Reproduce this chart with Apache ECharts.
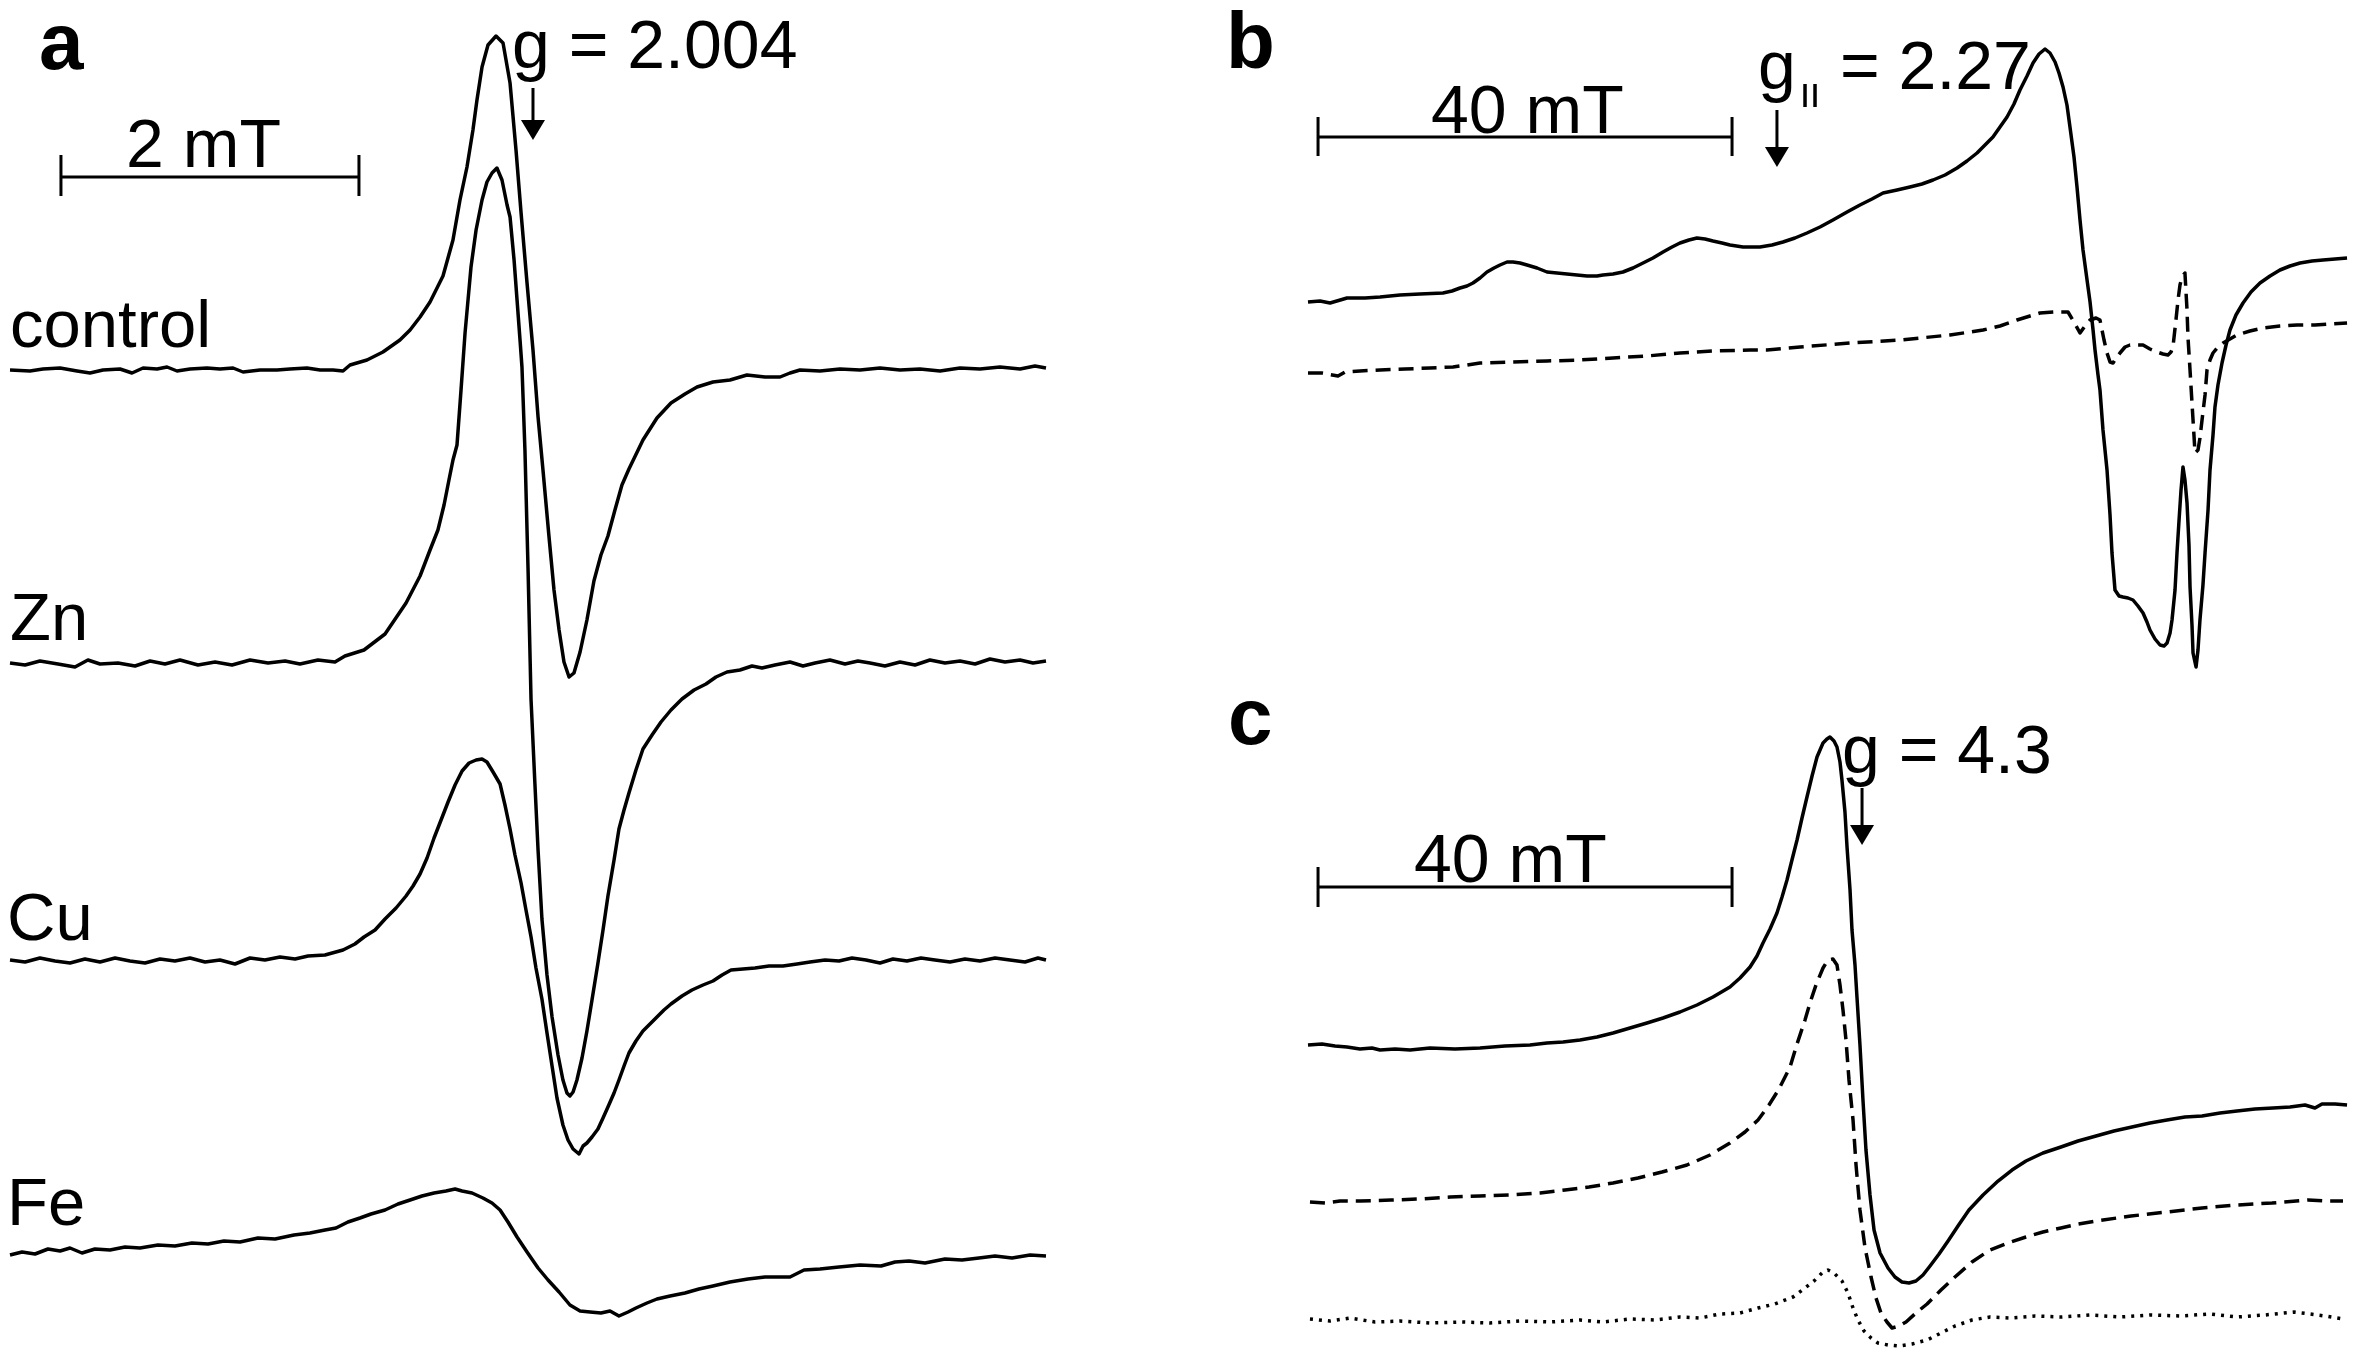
<!DOCTYPE html>
<html><head><meta charset="utf-8">
<script src="https://cdn.jsdelivr.net/npm/echarts@6/dist/echarts.min.js"></script>
<style>html,body{margin:0;padding:0;background:#fff}#c{width:2359px;height:1352px}</style>
</head><body><div id="c"></div>
<script>
// ---------- Panel a : field offset (mT) , intensity (a.u., traces stacked) ----------
const controlTrace = [[0.000,98.2],[0.134,98.1],[0.221,98.3],[0.336,98.4],[0.450,98.1],[0.537,97.9],[0.624,98.2],[0.738,98.3],[0.819,97.9],[0.893,98.4],[0.987,98.3],[1.054,98.5],[1.121,98.1],[1.208,98.3],[1.322,98.4],[1.409,98.3],[1.497,98.4],[1.564,98.0],[1.678,98.2],[1.792,98.2],[1.879,98.3],[1.993,98.4],[2.081,98.2],[2.168,98.2],[2.235,98.1],[2.282,98.7],[2.396,99.2],[2.503,100.0],[2.617,101.2],[2.685,102.2],[2.752,103.5],[2.819,105.0],[2.906,107.6],[2.973,111.2],[3.020,115.2],[3.067,118.5],[3.107,122.2],[3.134,125.2],[3.168,128.5],[3.208,130.7],[3.262,131.6],[3.309,130.9],[3.356,126.9],[3.396,120.2],[3.430,113.9],[3.470,106.9],[3.510,100.2],[3.544,93.5],[3.577,88.2],[3.617,81.6],[3.651,76.2],[3.685,72.2],[3.718,69.0],[3.752,67.5],[3.785,67.9],[3.826,70.0],[3.872,73.2],[3.919,77.1],[3.966,79.7],[4.013,81.6],[4.060,84.2],[4.107,86.7],[4.154,88.3],[4.248,91.2],[4.342,93.4],[4.436,94.9],[4.530,95.8],[4.611,96.5],[4.718,97.0],[4.832,97.2],[4.946,97.7],[5.067,97.5],[5.168,97.5],[5.235,97.9],[5.302,98.2],[5.436,98.1],[5.570,98.3],[5.705,98.2],[5.839,98.4],[5.973,98.2],[6.107,98.3],[6.242,98.1],[6.376,98.4],[6.510,98.3],[6.644,98.5],[6.779,98.3],[6.879,98.6],[6.953,98.4]];
const znTrace = [[0.000,68.9],[0.101,68.7],[0.201,69.1],[0.322,68.8],[0.436,68.5],[0.523,69.2],[0.604,68.8],[0.725,68.9],[0.839,68.6],[0.940,69.1],[1.040,68.8],[1.141,69.2],[1.262,68.7],[1.376,69.0],[1.490,68.7],[1.611,69.2],[1.732,68.9],[1.846,69.1],[1.946,68.8],[2.067,69.2],[2.181,69.0],[2.248,69.6],[2.376,70.2],[2.517,71.8],[2.658,74.9],[2.752,77.6],[2.819,80.2],[2.872,82.2],[2.913,84.7],[2.946,87.2],[2.973,89.2],[3.000,90.7],[3.027,96.2],[3.054,101.9],[3.094,108.5],[3.128,112.2],[3.168,115.2],[3.201,117.0],[3.235,117.9],[3.268,118.4],[3.302,117.2],[3.336,114.7],[3.356,113.5],[3.383,109.2],[3.403,105.2],[3.423,101.2],[3.436,98.5],[3.456,90.2],[3.477,78.2],[3.497,65.2],[3.523,56.8],[3.544,50.2],[3.570,43.3],[3.604,37.7],[3.638,33.5],[3.678,29.7],[3.711,27.2],[3.738,25.9],[3.758,25.6],[3.779,26.0],[3.805,27.2],[3.839,29.4],[3.872,32.1],[3.906,35.2],[3.946,38.9],[3.980,42.2],[4.013,45.6],[4.054,49.2],[4.087,52.3],[4.121,54.2],[4.154,55.9],[4.201,58.2],[4.248,60.3],[4.309,61.7],[4.369,63.0],[4.436,64.2],[4.510,65.3],[4.591,66.2],[4.671,66.8],[4.738,67.5],[4.812,68.0],[4.899,68.2],[4.980,68.6],[5.047,68.4],[5.134,68.7],[5.235,69.0],[5.322,68.6],[5.403,68.9],[5.503,69.2],[5.604,68.8],[5.691,69.1],[5.772,68.9],[5.872,68.6],[5.973,69.0],[6.074,68.7],[6.174,69.2],[6.275,68.9],[6.376,69.1],[6.477,68.8],[6.577,69.3],[6.678,69.0],[6.779,69.2],[6.866,68.9],[6.953,69.1]];
const cuTrace = [[0.000,39.2],[0.101,39.0],[0.201,39.4],[0.302,39.1],[0.403,38.9],[0.503,39.3],[0.604,39.0],[0.705,39.4],[0.805,39.1],[0.906,38.9],[1.007,39.3],[1.107,39.1],[1.208,39.4],[1.309,39.0],[1.409,39.2],[1.510,38.8],[1.611,39.4],[1.711,39.2],[1.812,39.5],[1.913,39.3],[2.000,39.6],[2.114,39.7],[2.235,40.2],[2.315,40.8],[2.376,41.5],[2.450,42.2],[2.517,43.3],[2.591,44.4],[2.658,45.6],[2.705,46.6],[2.752,47.8],[2.799,49.4],[2.846,51.4],[2.893,53.2],[2.940,55.0],[2.987,56.7],[3.034,58.1],[3.081,58.9],[3.128,59.2],[3.168,59.3],[3.201,59.0],[3.242,58.0],[3.289,56.8],[3.322,54.7],[3.356,52.3],[3.389,49.7],[3.430,46.9],[3.463,44.2],[3.497,41.5],[3.530,38.4],[3.570,35.3],[3.604,31.9],[3.638,28.6],[3.671,25.4],[3.711,22.7],[3.745,21.2],[3.779,20.3],[3.819,19.8],[3.846,20.6],[3.872,20.9],[3.906,21.5],[3.946,22.3],[3.980,23.4],[4.013,24.5],[4.054,25.9],[4.087,27.2],[4.121,28.6],[4.154,29.9],[4.201,31.1],[4.248,32.1],[4.295,32.8],[4.342,33.5],[4.389,34.2],[4.436,34.8],[4.510,35.6],[4.577,36.2],[4.651,36.7],[4.718,37.1],[4.779,37.7],[4.839,38.2],[4.919,38.3],[5.000,38.4],[5.094,38.6],[5.188,38.6],[5.282,38.8],[5.369,39.0],[5.470,39.2],[5.564,39.1],[5.651,39.4],[5.745,39.2],[5.839,38.9],[5.926,39.3],[6.020,39.1],[6.114,39.4],[6.208,39.2],[6.309,39.0],[6.409,39.3],[6.510,39.1],[6.611,39.4],[6.711,39.2],[6.812,39.0],[6.899,39.4],[6.953,39.2]];
const feTrace = [[0.000,9.7],[0.081,10.0],[0.168,9.8],[0.255,10.3],[0.336,10.1],[0.403,10.4],[0.483,9.9],[0.570,10.3],[0.671,10.2],[0.772,10.5],[0.872,10.4],[0.993,10.7],[1.107,10.6],[1.221,10.9],[1.329,10.8],[1.436,11.1],[1.544,11.0],[1.664,11.4],[1.779,11.3],[1.906,11.7],[2.013,11.9],[2.114,12.2],[2.188,12.4],[2.268,13.0],[2.349,13.4],[2.423,13.8],[2.517,14.2],[2.604,14.8],[2.685,15.2],[2.765,15.6],[2.846,15.9],[2.926,16.1],[2.987,16.3],[3.034,16.1],[3.101,15.9],[3.174,15.4],[3.235,14.9],[3.289,14.2],[3.342,13.0],[3.403,11.5],[3.470,10.0],[3.544,8.4],[3.611,7.2],[3.685,6.0],[3.758,4.7],[3.826,4.1],[3.893,4.0],[3.966,3.9],[4.027,4.1],[4.087,3.6],[4.148,4.0],[4.201,4.4],[4.275,4.9],[4.342,5.3],[4.430,5.6],[4.530,5.9],[4.624,6.3],[4.718,6.6],[4.832,7.0],[4.953,7.3],[5.067,7.5],[5.235,7.5],[5.329,8.2],[5.436,8.3],[5.564,8.5],[5.705,8.7],[5.846,8.6],[5.940,9.0],[6.034,9.1],[6.141,8.9],[6.275,9.3],[6.389,9.2],[6.503,9.4],[6.611,9.6],[6.725,9.4],[6.846,9.7],[6.953,9.6]];
const traceNames = ['control', 'Zn', 'Cu', 'Fe'];

// ---------- Panel b : field (mT) , intensity ----------
const bSolid = [[250.00,105.0],[251.16,105.1],[252.13,104.9],[253.77,105.4],[255.51,105.4],[256.96,105.5],[258.89,105.7],[260.82,105.8],[263.04,105.9],[263.91,106.1],[264.69,106.4],[265.36,106.6],[265.94,106.9],[266.62,107.4],[267.29,108.0],[267.97,108.4],[268.55,108.7],[269.23,109.0],[269.81,109.0],[270.48,108.9],[271.16,108.7],[272.13,108.4],[273.09,108.0],[274.06,107.9],[275.02,107.8],[275.99,107.7],[276.96,107.6],[277.92,107.6],[278.50,107.7],[279.47,107.8],[280.43,108.0],[281.40,108.4],[282.37,108.9],[283.33,109.4],[284.30,110.0],[285.17,110.5],[285.94,110.9],[286.81,111.2],[287.58,111.4],[288.36,111.3],[289.13,111.1],[290.00,110.9],[290.77,110.7],[292.03,110.5],[293.67,110.5],[294.83,110.7],[295.89,111.0],[297.05,111.4],[298.21,111.9],[299.47,112.5],[300.72,113.2],[302.08,114.0],[303.33,114.7],[304.49,115.3],[305.56,115.9],[306.91,116.2],[308.16,116.5],[309.32,116.8],[310.39,117.2],[311.55,117.7],[312.71,118.4],[313.67,119.1],[314.64,119.9],[315.41,120.7],[316.18,121.5],[316.86,122.5],[317.54,123.5],[318.21,124.8],[318.79,126.2],[319.47,127.6],[320.05,128.9],[320.63,129.8],[321.21,130.3],[321.69,129.9],[322.18,129.0],[322.56,127.9],[322.95,126.5],[323.33,124.7],[323.62,122.5],[324.01,119.5],[324.30,116.5],[324.59,113.2],[324.88,110.2],[325.27,107.2],[325.56,105.0],[325.85,102.2],[326.04,100.2],[326.33,97.7],[326.52,96.2],[326.81,92.2],[327.20,88.2],[327.49,83.7],[327.68,79.9],[327.97,76.2],[328.36,75.6],[328.74,75.5],[329.23,75.4],[329.71,75.2],[330.19,74.6],[330.68,73.9],[331.06,73.0],[331.35,72.2],[331.84,71.3],[332.32,70.7],[332.71,70.6],[333.00,70.9],[333.29,71.9],[333.48,73.2],[333.77,76.2],[333.96,79.9],[334.16,83.2],[334.35,86.2],[334.54,88.5],[334.73,87.2],[334.93,84.9],[335.12,80.7],[335.22,76.5],[335.41,72.7],[335.51,69.9],[335.80,68.5],[335.99,70.2],[336.18,73.2],[336.47,76.7],[336.67,79.9],[336.96,84.2],[337.15,88.2],[337.44,91.7],[337.63,94.5],[337.92,96.7],[338.31,98.9],[338.70,100.7],[339.08,102.2],[339.66,103.7],[340.34,104.9],[341.11,106.0],[341.98,106.9],[342.95,107.6],[343.91,108.2],[344.88,108.6],[345.85,108.9],[347.01,109.1],[348.07,109.2],[349.23,109.3],[350.39,109.4]];
const bDashed = [[250.00,97.9],[251.35,97.9],[252.90,97.6],[253.57,98.0],[255.02,98.1],[256.96,98.2],[259.37,98.3],[261.79,98.4],[264.01,98.5],[265.36,98.7],[266.62,98.9],[269.81,99.0],[273.09,99.1],[276.28,99.2],[279.47,99.4],[282.75,99.6],[285.94,99.9],[289.13,100.1],[292.71,100.2],[294.35,100.2],[297.54,100.5],[302.37,100.9],[307.20,101.2],[312.03,101.7],[315.22,102.2],[316.86,102.6],[318.50,103.2],[319.76,103.6],[320.72,103.9],[322.18,104.0],[323.43,104.0],[324.01,103.0],[324.59,101.9],[325.07,102.6],[325.56,103.2],[326.14,103.4],[326.52,103.2],[326.91,101.2],[327.20,99.9],[327.49,99.0],[327.78,98.9],[328.16,99.5],[328.45,99.9],[328.94,100.5],[329.42,100.7],[330.10,100.7],[330.68,100.7],[331.35,100.3],[332.03,100.0],[332.61,99.8],[333.09,99.7],[333.38,100.0],[333.57,100.5],[333.86,103.2],[334.06,105.2],[334.25,106.7],[334.44,107.5],[334.73,107.9],[334.93,104.2],[335.02,101.5],[335.22,98.2],[335.41,94.9],[335.60,91.7],[335.70,89.9],[335.99,90.2],[336.18,91.4],[336.38,93.2],[336.67,95.7],[336.86,98.2],[337.15,99.2],[337.44,99.9],[337.92,100.5],[338.41,100.9],[339.08,101.3],[339.76,101.7],[341.01,102.1],[342.27,102.4],[343.91,102.6],[345.56,102.7],[347.29,102.7],[348.74,102.8],[350.39,102.9]];

// ---------- Panel c : field (mT) , intensity ----------
const cSolid = [[100.00,30.7],[101.35,30.8],[102.61,30.6],[103.77,30.5],[105.02,30.3],[106.18,30.4],[106.96,30.2],[108.41,30.3],[109.86,30.2],[111.79,30.4],[114.20,30.3],[116.62,30.4],[119.03,30.6],[121.45,30.7],[123.09,30.9],[124.64,31.0],[126.28,31.2],[127.92,31.5],[129.47,31.9],[131.11,32.4],[132.75,32.9],[134.30,33.4],[135.94,34.0],[137.58,34.7],[139.13,35.5],[140.77,36.5],[141.74,37.4],[142.71,38.5],[143.38,39.6],[143.96,40.9],[144.64,42.3],[145.31,43.9],[145.80,45.5],[146.28,47.2],[146.76,49.2],[147.25,51.2],[147.73,53.4],[148.21,55.5],[148.70,57.6],[149.18,59.5],[149.76,60.9],[150.14,61.3],[150.43,61.5],[150.82,61.1],[151.11,60.5],[151.40,59.0],[151.59,57.2],[151.88,54.0],[152.08,50.5],[152.37,46.2],[152.56,42.2],[152.85,38.7],[153.04,35.5],[153.33,30.7],[153.62,25.2],[153.91,20.2],[154.30,15.7],[154.69,12.2],[155.27,9.9],[156.04,8.4],[156.71,7.5],[157.39,7.0],[158.07,6.9],[158.74,7.1],[159.42,7.7],[160.10,8.6],[160.97,9.8],[161.84,11.1],[162.80,12.6],[163.86,14.2],[165.22,15.7],[166.67,17.1],[168.02,18.2],[169.37,19.1],[171.01,19.9],[172.75,20.5],[174.40,21.1],[176.14,21.6],[177.87,22.1],[179.61,22.5],[181.35,22.9],[182.99,23.2],[184.73,23.5],[186.38,23.6],[188.12,23.9],[189.76,24.1],[191.50,24.3],[193.24,24.4],[194.88,24.5],[196.33,24.7],[197.29,24.4],[197.97,24.8],[199.23,24.8],[200.39,24.7]];
const cDashed = [[100.19,15.0],[101.64,14.9],[103.09,15.1],[105.02,15.1],[108.02,15.2],[110.82,15.3],[113.72,15.5],[116.62,15.6],[119.52,15.7],[122.42,15.9],[124.83,16.2],[127.15,16.5],[129.47,16.9],[131.88,17.4],[134.20,18.0],[136.62,18.7],[138.84,19.7],[140.77,20.9],[142.22,22.0],[143.48,23.2],[144.54,24.7],[145.51,26.3],[146.57,28.5],[147.25,30.8],[148.02,33.2],[148.50,34.9],[149.08,36.7],[149.76,38.4],[150.24,39.2],[150.72,39.3],[151.11,38.7],[151.40,36.7],[151.69,34.2],[151.98,31.2],[152.27,27.2],[152.66,23.2],[152.95,18.7],[153.33,14.2],[153.82,10.4],[154.40,7.5],[154.88,5.4],[155.36,3.9],[155.94,3.0],[156.43,2.4],[157.10,2.6],[157.78,3.0],[158.74,3.9],[159.81,4.8],[161.16,6.2],[162.51,7.5],[164.15,9.0],[165.89,10.2],[167.63,10.9],[169.37,11.5],[171.01,12.0],[172.75,12.4],[174.40,12.8],[176.14,13.1],[179.52,13.6],[182.99,14.0],[186.38,14.4],[189.76,14.7],[193.14,14.9],[196.62,15.2],[198.26,15.1],[200.00,15.1]];
const cDotted = [[100.19,3.3],[102.13,3.1],[104.06,3.4],[106.47,3.0],[108.89,3.1],[111.79,2.9],[114.88,3.0],[117.58,2.9],[120.48,3.1],[123.38,3.0],[126.28,3.2],[128.50,3.0],[131.11,3.3],[133.53,3.2],[135.94,3.5],[137.87,3.4],[139.81,3.8],[141.74,3.9],[143.48,4.4],[145.12,4.8],[146.86,5.5],[148.02,6.4],[148.89,7.1],[149.66,7.9],[150.24,8.2],[150.82,7.9],[151.59,7.1],[152.17,5.9],[152.66,4.4],[153.14,3.2],[153.72,2.1],[154.40,1.4],[155.07,0.9],[156.04,0.7],[157.10,0.6],[158.36,0.8],[159.81,1.2],[161.16,1.9],[162.51,2.6],[164.15,3.2],[165.89,3.5],[167.83,3.4],[170.24,3.6],[172.75,3.5],[175.56,3.7],[178.45,3.5],[181.35,3.7],[184.25,3.6],[187.15,3.8],[189.76,3.5],[192.46,3.7],[195.27,4.0],[196.81,3.8],[198.26,3.6],[200.00,3.3]];

// scale bars (field span) and g-value markers
const scaleBarLengths = [2, 40, 40];          // mT
const scaleBarLabels = ['2 mT', '40 mT', '40 mT'];
const gMarkerField = [3.510, 295.31, 153.53]; // mT, arrow positions
const gLabels = ['g = 2.004', 'g', 'g = 4.3'];

// ---------- layout / styling ----------
const FONT = '"Liberation Sans", Arial, Helvetica, sans-serif';
const BLACK = '#000';
const LW = 3.5;
const chart = echarts.init(document.getElementById('c'), null, {renderer: 'canvas'});

function lineSeries(panel, data, type) {
  return {type: 'line', xAxisIndex: panel, yAxisIndex: panel, data: data, symbol: 'none',
    silent: true, animation: false, clip: false,
    lineStyle: {color: BLACK, width: LW, type: type, join: 'round', cap: 'butt'}};
}
// scale-bar geometry per panel (start field, bar level, tick top, tick bottom)
const barGeom = [
  {start: 0.342, y: 117.5, up: 119.7, down: 115.6},
  {start: 250.97, y: 121.5, up: 123.5, down: 119.6},
  {start: 100.97, y: 46.5, up: 48.5, down: 44.5}
];
function barSeries(panel) {
  const g = barGeom[panel], x0 = g.start, x1 = g.start + scaleBarLengths[panel];
  const s = lineSeries(panel, [[x0, g.up], [x0, g.down], [x0, g.y], [x1, g.y], [x1, g.up], [x1, g.down]], 'solid');
  s.lineStyle.width = 3; s.lineStyle.join = 'miter';
  return s;
}

const option = {
  backgroundColor: '#fff',
  animation: false,
  grid: [
    {left: 10, top: 0, width: 1043, height: 1352},
    {left: 1308, top: 0, width: 1045.35, height: 1352},
    {left: 1308, top: 0, width: 1045.35, height: 1352}
  ],
  xAxis: [
    {gridIndex: 0, type: 'value', min: 0, max: 7, show: false},
    {gridIndex: 1, type: 'value', min: 250, max: 351, show: false},
    {gridIndex: 2, type: 'value', min: 100, max: 201, show: false}
  ],
  yAxis: [0, 1, 2].map(i => ({gridIndex: i, type: 'value', min: 0, max: 135.2, show: false})),
  series: [
    lineSeries(0, controlTrace, 'solid'),
    lineSeries(0, znTrace, 'solid'),
    lineSeries(0, cuTrace, 'solid'),
    lineSeries(0, feTrace, 'solid'),
    lineSeries(1, bSolid, 'solid'),
    lineSeries(1, bDashed, [15, 8]),
    lineSeries(2, cSolid, 'solid'),
    lineSeries(2, cDashed, [15, 8]),
    lineSeries(2, cDotted, [3, 6]),
    barSeries(0), barSeries(1), barSeries(2)
  ]
};
chart.setOption(option);

// ---------- annotations (anchored in data coordinates) ----------
const P = (panel, x, y) => chart.convertToPixel({xAxisIndex: panel, yAxisIndex: panel}, [x, y]);
const MID = 0.28; // baseline offset of the em-middle (fraction of font size)
const gfx = [];
function txt(px, py, text, size, weight, align) {
  gfx.push({type: 'text', x: px, y: py - size * MID, silent: true,
    style: {text: text, font: (weight || 'normal') + ' ' + size + 'px ' + FONT, fill: BLACK,
      align: align || 'left', verticalAlign: 'middle', textAlign: align || 'left', textVerticalAlign: 'middle'}});
}
function arrow(panel, x, yTop, yTip) {
  const a = P(panel, x, yTop), b = P(panel, x, yTip);
  gfx.push({type: 'line', silent: true, shape: {x1: a[0], y1: a[1], x2: b[0], y2: b[1] - 18}, style: {stroke: BLACK, lineWidth: 3}});
  gfx.push({type: 'polygon', silent: true, shape: {points: [[b[0] - 12, b[1] - 20], [b[0] + 12, b[1] - 20], [b[0], b[1]]]}, style: {fill: BLACK}});
}
// trace labels (panel a)
const traceLabelPos = [[0.0, 100.5], [0.0, 71.2], [-0.02, 41.2], [-0.02, 12.7]];
traceNames.forEach((n, i) => { const p = P(0, traceLabelPos[i][0], traceLabelPos[i][1]); txt(p[0], p[1], n, 67); });
// scale bar labels
const barLabelPos = [[0, 0.779, 118.5], [1, 261.88, 121.9], [2, 110.24, 47.0]];
barLabelPos.forEach((b, i) => { const p = P(b[0], b[1], b[2]); txt(p[0], p[1], scaleBarLabels[i], 68); });
// g labels and arrows
let p = P(0, 3.369, 128.4); txt(p[0], p[1], gLabels[0], 68);
p = P(2, 151.59, 57.9); txt(p[0], p[1], gLabels[2], 68);
p = P(1, 293.48, 126.3); txt(p[0], p[1], gLabels[1], 68);
gfx.push({type: 'line', silent: true, shape: {x1: p[0] + 47, y1: p[1] - 5, x2: p[0] + 47, y2: p[1] + 18}, style: {stroke: BLACK, lineWidth: 3.5}});
gfx.push({type: 'line', silent: true, shape: {x1: p[0] + 57, y1: p[1] - 5, x2: p[0] + 57, y2: p[1] + 18}, style: {stroke: BLACK, lineWidth: 3.5}});
p = P(1, 301.40, 126.3); txt(p[0], p[1], '= 2.27', 68);
arrow(0, gMarkerField[0], 126.4, 121.2);
arrow(1, gMarkerField[1], 124.2, 118.5);
arrow(2, gMarkerField[2], 56.4, 50.7);
// panel letters
txt(39, 69, 'a', 80, 'bold');
txt(1226, 68, 'b', 80, 'bold');
txt(1228, 744, 'c', 80, 'bold');

chart.setOption({graphic: {elements: gfx}});
</script>
</body></html>
